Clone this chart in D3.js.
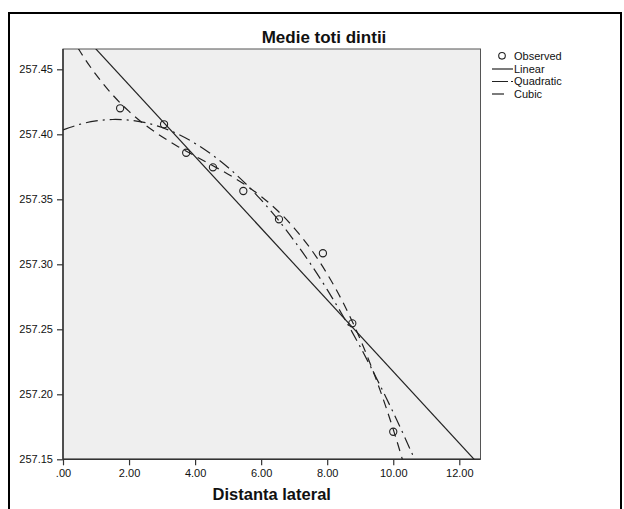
<!DOCTYPE html>
<html><head><meta charset="utf-8">
<script src="https://cdn.jsdelivr.net/npm/d3@7"></script>
<style>
body{margin:0;background:#fff}
text{font-family:"Liberation Sans",Arial,sans-serif;fill:#111}
</style>
</head><body><svg id="chart" width="624" height="509"></svg>
<script>
// observed points
const obsX = [1.73, 3.06, 3.73, 4.54, 5.46, 6.54, 7.87, 8.76, 10.00]
const obsY = [257.420, 257.4077, 257.3858, 257.3746, 257.3564, 257.3346, 257.3085, 257.2546, 257.1712]

// fitted curves
const linX = [0, 13]
const linY = [257.4931, 257.1348]
const curveX = [0, 0.5, 1, 1.5, 2, 2.5, 3, 3.5, 4, 4.5, 5, 5.5, 6, 6.5, 7, 7.5, 8, 8.5, 9, 9.5, 10, 10.5, 11, 11.5]
const quadY = [257.4034, 257.4076, 257.4103, 257.4114, 257.4109, 257.4089, 257.4052, 257.3999, 257.3930, 257.3845,
               257.3745, 257.3628, 257.3495, 257.3347, 257.3182, 257.3002, 257.2805, 257.2593, 257.2365, 257.2120,
               257.1860, 257.1584, 257.1292, 257.0984]
const cubY = [257.4868, 257.4645, 257.4459, 257.4304, 257.4176, 257.4070, 257.3981, 257.3903, 257.3833, 257.3764,
              257.3693, 257.3614, 257.3522, 257.3412, 257.3279, 257.3119, 257.2926, 257.2696, 257.2423, 257.2103,
              257.1730, 257.1300, 257.0808, 257.0248]

const yTicks = [257.15, 257.20, 257.25, 257.30, 257.35, 257.40, 257.45]
const xTicks = [0, 2, 4, 6, 8, 10, 12]
const xTickLabels = [".00", "2.00", "4.00", "6.00", "8.00", "10.00", "12.00"]

const legendItems = ["Observed", "Linear", "Quadratic", "Cubic"]

const svg = d3.select("#chart")

const plotLeft = 63, plotRight = 480.5, plotTop = 49, plotBottom = 459.3

const x = d3.scaleLinear().domain([0, 12]).range([plotLeft, 459.3])
const y = d3.scaleLinear().domain([257.15, 257.45]).range([plotBottom, 69.3])

// outer frame
svg.append("rect")
  .attr("x", 9).attr("y", 13)
  .attr("width", 612).attr("height", 520)
  .attr("fill", "none").attr("stroke", "#000").attr("stroke-width", 2)

svg.append("text")
  .attr("x", 324).attr("y", 43)
  .attr("text-anchor", "middle")
  .attr("font-size", 17).attr("font-weight", "bold")
  .text("Medie toti dintii")

svg.append("defs").append("clipPath").attr("id", "plotClip")
  .append("rect")
  .attr("x", plotLeft).attr("y", plotTop)
  .attr("width", plotRight - plotLeft).attr("height", plotBottom - plotTop)

svg.append("rect")
  .attr("x", plotLeft).attr("y", plotTop)
  .attr("width", plotRight - plotLeft).attr("height", plotBottom - plotTop)
  .attr("fill", "#efefef").attr("stroke", "#555").attr("stroke-width", 1)

// axes
const yAxis = svg.append("g")
  .attr("transform", `translate(${plotLeft},0)`)
  .call(d3.axisLeft(y).tickValues(yTicks).tickFormat(d3.format(".2f")).tickSize(6).tickPadding(4))
const xAxis = svg.append("g")
  .attr("transform", `translate(0,${plotBottom})`)
  .call(d3.axisBottom(x).tickValues(xTicks).tickFormat((d, i) => xTickLabels[i]).tickSize(6).tickPadding(4))
xAxis.select(".domain").attr("d", `M${plotLeft},0H${plotRight}`)
yAxis.select(".domain").attr("d", `M0,${plotBottom}V${plotTop}`)
svg.selectAll(".domain").attr("stroke", "#333").attr("stroke-width", 1.5)
svg.selectAll(".tick line").attr("stroke", "#333").attr("stroke-width", 1.2)
svg.selectAll(".tick text").attr("font-size", 11).attr("font-family", "Liberation Sans, Arial, sans-serif").attr("fill", "#222")

svg.append("text")
  .attr("x", (plotLeft + plotRight) / 2).attr("y", 500)
  .attr("text-anchor", "middle")
  .attr("font-size", 16.5).attr("font-weight", "bold")
  .text("Distanta lateral")

// fits
const lines = svg.append("g").attr("clip-path", "url(#plotClip)")
const lineGen = d3.line().x(d => x(d[0])).y(d => y(d[1]))
const curveGen = d3.line().x(d => x(d[0])).y(d => y(d[1])).curve(d3.curveNatural)

lines.append("path")
  .attr("d", lineGen(d3.zip(linX, linY)))
  .attr("fill", "none").attr("stroke", "#222").attr("stroke-width", 1.2)
lines.append("path")
  .attr("d", curveGen(d3.zip(curveX, quadY)))
  .attr("fill", "none").attr("stroke", "#222").attr("stroke-width", 1.2)
  .attr("stroke-dasharray", "12,5,2,5")
lines.append("path")
  .attr("d", curveGen(d3.zip(curveX, cubY)))
  .attr("fill", "none").attr("stroke", "#222").attr("stroke-width", 1.2)
  .attr("stroke-dasharray", "9,6")

svg.append("g").selectAll("circle")
  .data(d3.zip(obsX, obsY))
  .enter()
  .append("circle")
  .attr("cx", d => x(d[0]))
  .attr("cy", d => y(d[1]))
  .attr("r", 3.6)
  .attr("fill", "none").attr("stroke", "#222").attr("stroke-width", 1.1)

// legend
const legend = svg.append("g")
legend.selectAll("text")
  .data(legendItems)
  .enter()
  .append("text")
  .attr("x", 514)
  .attr("y", (d, i) => 60 + i * 12.5)
  .attr("font-size", 11)
  .text(d => d)
legend.append("circle").attr("cx", 502).attr("cy", 55.8).attr("r", 3.3)
  .attr("fill", "none").attr("stroke", "#222").attr("stroke-width", 1.1)
legend.append("line").attr("x1", 492).attr("x2", 513).attr("y1", 69).attr("y2", 69)
  .attr("stroke", "#222").attr("stroke-width", 1.2)
legend.append("line").attr("x1", 492).attr("x2", 514).attr("y1", 81.5).attr("y2", 81.5)
  .attr("stroke", "#222").attr("stroke-width", 1.2).attr("stroke-dasharray", "16,3,2,3")
legend.append("line").attr("x1", 492).attr("x2", 504).attr("y1", 94).attr("y2", 94)
  .attr("stroke", "#222").attr("stroke-width", 1.2)
</script></body></html>
